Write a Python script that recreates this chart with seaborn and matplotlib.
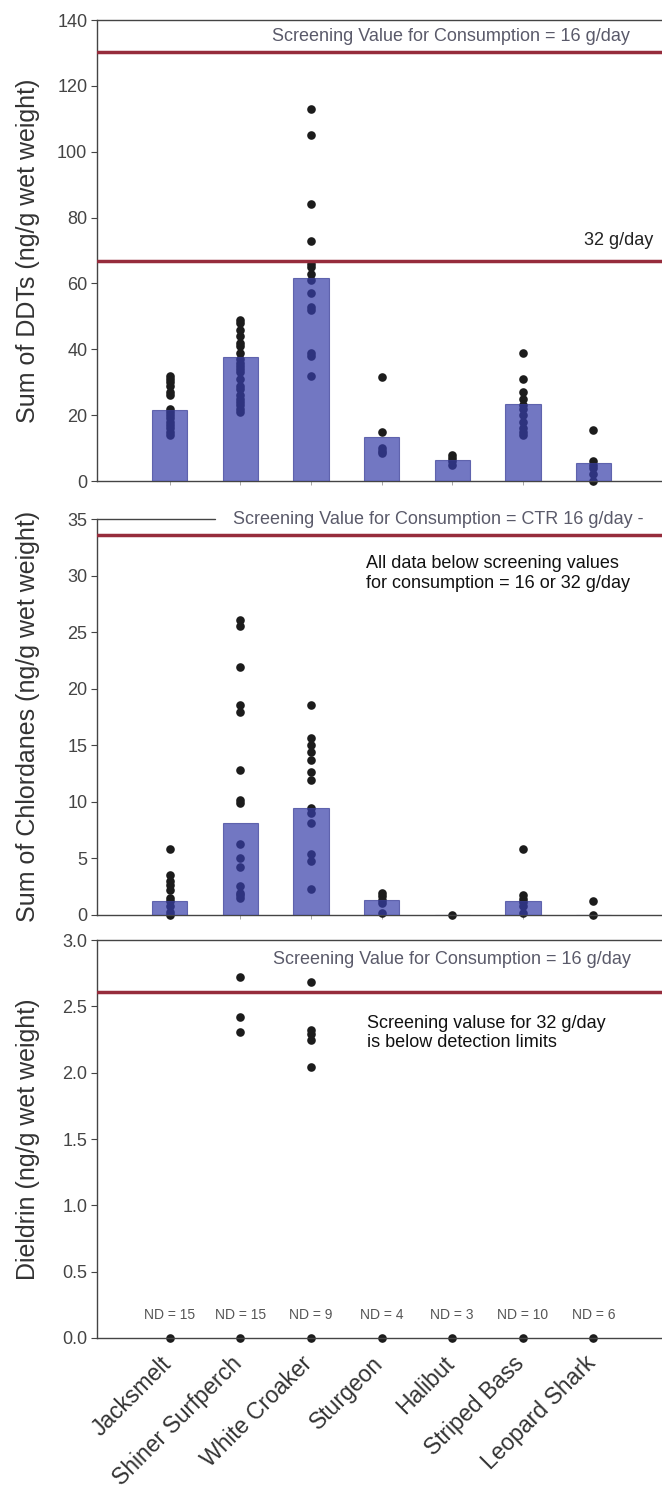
import matplotlib
matplotlib.use("Agg")
import matplotlib.pyplot as plt
from matplotlib.transforms import ScaledTranslation
import seaborn as sns
import pandas as pd

species = ["Jacksmelt", "Shiner Surfperch", "White Croaker", "Sturgeon",
           "Halibut", "Striped Bass", "Leopard Shark"]

# ---- DDTs ----
ddt_bar = [21.6, 37.6, 61.6, 13.5, 6.4, 23.4, 5.6]
ddt_pts = {
    "Jacksmelt": [32, 31, 30, 29, 27, 26, 22, 21, 20, 19, 18, 17, 16, 15, 14],
    "Shiner Surfperch": [49, 48, 46, 44, 42, 41, 39, 37, 36, 35, 34, 33, 31,
                         29, 28, 26, 25, 24, 23, 22, 21],
    "White Croaker": [113, 105, 84, 73, 66, 65, 63, 61, 57, 53, 52, 39, 38, 32],
    "Sturgeon": [31.5, 15, 10, 9, 8.5],
    "Halibut": [8, 7, 6, 5],
    "Striped Bass": [39, 31, 27, 25, 23, 22, 20, 18, 16, 15, 14],
    "Leopard Shark": [15.5, 6, 5, 4, 2, 0],
}
ddt_sv16 = 130.4
ddt_sv32 = 66.9

# ---- Chlordanes ----
chl_bar = [1.2, 8.1, 9.4, 1.3, 0, 1.2, 0]
chl_pts = {
    "Jacksmelt": [5.8, 3.5, 3.0, 2.6, 2.2, 1.5, 1.2, 0.8, 0.2, 0],
    "Shiner Surfperch": [26.1, 25.5, 21.9, 18.5, 17.9, 12.8, 10.1, 9.9, 6.2,
                         5.0, 4.2, 2.5, 1.9, 1.7, 1.5],
    "White Croaker": [18.5, 15.6, 15.0, 14.4, 13.7, 12.6, 11.9, 9.4, 9.0, 8.1,
                      5.4, 4.7, 2.3],
    "Sturgeon": [1.9, 1.6, 1.3, 1.0, 0.1],
    "Halibut": [0],
    "Striped Bass": [5.8, 1.7, 1.4, 1.1, 0.8, 0.1],
    "Leopard Shark": [1.2, 0],
}
chl_sv16 = 33.6

# ---- Dieldrin ----
die_pts = {
    "Jacksmelt": [0],
    "Shiner Surfperch": [2.72, 2.42, 2.31, 0],
    "White Croaker": [2.68, 2.32, 2.29, 2.25, 2.04, 0],
    "Sturgeon": [0],
    "Halibut": [0],
    "Striped Bass": [0],
    "Leopard Shark": [0],
}
die_sv16 = 2.61
nd_labels = ["ND = 15", "ND = 15", "ND = 9", "ND = 4", "ND = 3", "ND = 10", "ND = 6"]


def to_df(d):
    rows = [(k, v) for k in species for v in d[k]]
    return pd.DataFrame(rows, columns=["species", "value"])


sns.set_style("ticks")
plt.rcParams["font.family"] = ["Liberation Sans", "DejaVu Sans"]

fig = plt.figure(figsize=(6.62, 15), dpi=100)
ax1 = fig.add_axes([0.1465, 0.6793, 0.8535, 0.3073])
ax2 = fig.add_axes([0.1465, 0.3903, 0.8535, 0.2637])
ax3 = fig.add_axes([0.1465, 0.1080, 0.8535, 0.2653])

bar_color = "#373da9"
bar_edge = "#3a3f98"
line_color = "#962c3c"
sv_text = "#5a5a6a"
dot_color = "#1c1c1c"
tick_color = "#444444"
xl = (-1.03, 6.97)


def panel(ax, pts, bars, ylim, yticks, ylabel, fmt):
    df = to_df(pts)
    sns.stripplot(data=df, x="species", y="value", order=species, jitter=False,
                  color=dot_color, size=6.2, ax=ax, zorder=2, clip_on=False)
    if bars is not None:
        bdf = pd.DataFrame({"species": species, "value": bars})
        sns.barplot(data=bdf, x="species", y="value", order=species,
                    color=bar_color, width=0.5, ax=ax, errorbar=None,
                    edgecolor=bar_edge, linewidth=0.8, alpha=0.7, zorder=3,
                    saturation=1)
    ax.set_xlim(*xl)
    ax.set_ylim(*ylim)
    ax.set_yticks(yticks)
    ax.set_yticklabels([fmt.format(t) for t in yticks])
    ax.set_ylabel(ylabel, fontsize=18, color="#333333")
    ax.yaxis.set_label_coords(-0.10, 0.5)
    ax.set_xlabel("")
    for s in ["left", "bottom", "top"]:
        ax.spines[s].set_visible(True)
        ax.spines[s].set_color("#444444")
        ax.spines[s].set_linewidth(1.0)
    ax.spines["right"].set_visible(False)
    ax.tick_params(axis="y", labelsize=13, colors=tick_color, length=4,
                   width=0.8, labelcolor=tick_color, pad=3)
    ax.tick_params(axis="x", length=3, width=0.6, colors="#999999")


panel(ax1, ddt_pts, ddt_bar, (0, 140), [0, 20, 40, 60, 80, 100, 120, 140],
      "Sum of DDTs (ng/g wet weight)", "{:.0f}")
ax1.axhline(ddt_sv16, color=line_color, lw=2.5, zorder=4)
ax1.axhline(ddt_sv32, color=line_color, lw=2.5, zorder=4)
ax1.text(3.98, 134.9, "Screening Value for Consumption = 16 g/day",
         ha="center", va="center", fontsize=13, color=sv_text)
ax1.text(6.35, 73.2, "32 g/day", ha="center", va="center", fontsize=13,
         color="#222222")
ax1.set_xticklabels([])

panel(ax2, chl_pts, chl_bar, (0, 35), [0, 5, 10, 15, 20, 25, 30, 35],
      "Sum of Chlordanes (ng/g wet weight)", "{:.0f}")
ax2.spines["top"].set_visible(False)
ax2.axhline(35, xmin=0, xmax=0.209, color="#444444", lw=1.0, clip_on=False)
ax2.axhline(chl_sv16, color=line_color, lw=2.5, zorder=4)
ax2.text(0.89, 35, "Screening Value for Consumption = CTR 16 g/day -",
         ha="left", va="center", fontsize=13, color=sv_text, clip_on=False)
ax2.text(2.78, 30.2, "All data below screening values\nfor consumption = 16 or 32 g/day",
         ha="left", va="center", fontsize=13, color="#111111", linespacing=1.2)
ax2.set_xticklabels([])

panel(ax3, die_pts, None, (0, 3.0), [0.0, 0.5, 1.0, 1.5, 2.0, 2.5, 3.0],
      "Dieldrin (ng/g wet weight)", "{:.1f}")
ax3.axhline(die_sv16, color=line_color, lw=2.5, zorder=4)
ax3.text(4.0, 2.85, "Screening Value for Consumption = 16 g/day",
         ha="center", va="center", fontsize=13, color=sv_text)
ax3.text(2.8, 2.30, "Screening valuse for 32 g/day\nis below detection limits",
         ha="left", va="center", fontsize=13, color="#111111", linespacing=1.2)
for i, lab in enumerate(nd_labels):
    ax3.text(i, 0.17, lab, ha="center", va="center", fontsize=10,
             color="#555555")
ax3.set_xticks(range(len(species)))
ax3.set_xticklabels(species, rotation=45, ha="right", rotation_mode="anchor",
                    fontsize=16.5, color="#333333")
ax3.tick_params(axis="x", length=3, width=0.6, colors="#999999",
                labelcolor="#333333", pad=7)
shift = ScaledTranslation(-0.10, 0, fig.dpi_scale_trans)
for lab in ax3.get_xticklabels():
    lab.set_transform(lab.get_transform() + shift)

fig.savefig("out.png", dpi=100, facecolor="white")
